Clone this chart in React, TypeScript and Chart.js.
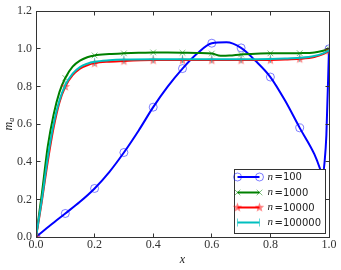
import React, { useEffect, useRef } from 'react';
import { Chart, registerables } from 'chart.js';

Chart.register(...registerables);

const xTicks = [0, 0.2, 0.4, 0.6, 0.8, 1.0];
const yTicks = [0, 0.2, 0.4, 0.6, 0.8, 1.0, 1.2];
const markerX = [0, 0.1, 0.2, 0.3, 0.4, 0.5, 0.6, 0.7, 0.8, 0.9, 1.0];
const seriesLabels = ['100', '1000', '10000', '100000'];

const n100X = [0, 0.05, 0.1, 0.15, 0.2, 0.25, 0.3, 0.35, 0.4, 0.45, 0.5, 0.55, 0.6, 0.65, 0.7, 0.75, 0.8, 0.85, 0.9, 0.95, 0.97, 0.978, 0.985, 0.991, 1.0];
const n100Y = [0, 0.064, 0.125, 0.187, 0.258, 0.345, 0.449, 0.565, 0.69, 0.8, 0.895, 0.975, 1.03, 1.035, 1.005, 0.935, 0.85, 0.725, 0.58, 0.44, 0.36, 0.32, 0.4, 0.54, 1.0];

const n1000X = [0, 0.02, 0.04, 0.06, 0.08, 0.1, 0.125, 0.15, 0.175, 0.2, 0.25, 0.3, 0.35, 0.4, 0.45, 0.5, 0.55, 0.6, 0.63, 0.66, 0.7, 0.75, 0.8, 0.85, 0.9, 0.95, 0.98, 1.0];
const n1000Y = [0, 0.23, 0.48, 0.65, 0.77, 0.845, 0.905, 0.937, 0.955, 0.965, 0.972, 0.976, 0.979, 0.981, 0.98, 0.979, 0.978, 0.975, 0.963, 0.964, 0.97, 0.974, 0.976, 0.976, 0.977, 0.981, 0.99, 1.0];

const n10000X = [0, 0.02, 0.04, 0.06, 0.08, 0.1, 0.125, 0.15, 0.175, 0.2, 0.25, 0.3, 0.4, 0.5, 0.6, 0.7, 0.8, 0.85, 0.9, 0.95, 0.98, 1.0];
const n10000Y = [0, 0.19, 0.4, 0.58, 0.715, 0.8, 0.86, 0.895, 0.913, 0.924, 0.932, 0.936, 0.94, 0.94, 0.94, 0.94, 0.941, 0.943, 0.947, 0.957, 0.972, 0.99];

const n100000X = [0, 0.02, 0.04, 0.06, 0.08, 0.1, 0.125, 0.15, 0.175, 0.2, 0.25, 0.3, 0.4, 0.5, 0.6, 0.7, 0.8, 0.85, 0.9, 0.95, 0.98, 1.0];
const n100000Y = [0, 0.2, 0.42, 0.6, 0.725, 0.807, 0.868, 0.903, 0.921, 0.931, 0.939, 0.943, 0.945, 0.945, 0.945, 0.945, 0.946, 0.948, 0.952, 0.962, 0.976, 0.992];

const LINE_COLORS = ['#0000ff', '#008000', '#ff0000', '#00bfbf'];
const MARK_COLORS = ['rgba(0,0,255,0.5)', 'rgba(0,128,0,0.5)', 'rgba(255,0,0,0.5)', 'rgba(0,191,191,0.6)'];

function makeStar(color: string): HTMLCanvasElement {
  const c = document.createElement('canvas');
  c.width = 11;
  c.height = 11;
  const g = c.getContext('2d')!;
  g.beginPath();
  for (let i = 0; i < 10; i++) {
    const r = i % 2 === 0 ? 5 : 2.1;
    const a = -Math.PI / 2 + (i * Math.PI) / 5;
    const px = 5.5 + r * Math.cos(a);
    const py = 5.8 + r * Math.sin(a);
    if (i === 0) g.moveTo(px, py);
    else g.lineTo(px, py);
  }
  g.closePath();
  g.fillStyle = color;
  g.fill();
  return c;
}

function isMarker(v: number) {
  return markerX.some((m) => Math.abs(m - v) < 1e-6);
}

export default function App() {
  const ref = useRef<HTMLCanvasElement>(null);

  useEffect(() => {
    const canvas = ref.current!;
    const star = makeStar(MARK_COLORS[2]);
    const styles: any[] = ['circle', 'crossRot', star, 'line'];
    const rotations = [0, 0, 0, 90];
    const xsAll = [n100X, n1000X, n10000X, n100000X];
    const ysAll = [n100Y, n1000Y, n10000Y, n100000Y];

    const datasets = xsAll.map((xs, i) => ({
      label: seriesLabels[i],
      data: xs.map((xv, j) => ({ x: xv, y: ysAll[i][j] })),
      borderColor: LINE_COLORS[i],
      borderWidth: 2,
      cubicInterpolationMode: 'monotone' as const,
      pointStyle: styles[i],
      pointRotation: rotations[i],
      pointRadius: (ctx: any) => (ctx.raw && isMarker(ctx.raw.x) ? 4 : 0),
      pointHoverRadius: 0,
      pointBorderColor: MARK_COLORS[i],
      pointBackgroundColor: 'rgba(0,0,0,0)',
      pointBorderWidth: 1,
      order: 3 - i,
    }));

    const framePlugin = {
      id: 'frame',
      afterDraw(chart: any) {
        const { ctx, chartArea, scales } = chart;
        const { left, right, top, bottom } = chartArea;
        const xs = scales.x;
        const ys = scales.y;
        ctx.save();
        ctx.strokeStyle = '#333';
        ctx.lineWidth = 1;
        const L = Math.floor(left) + 0.5;
        const R = Math.floor(right) + 0.5;
        const T = Math.floor(top) + 0.5;
        const B = Math.floor(bottom) + 0.5;
        ctx.beginPath();
        for (const v of xTicks) {
          const px = Math.floor(xs.getPixelForValue(v)) + 0.5;
          ctx.moveTo(px, B);
          ctx.lineTo(px, B - 4);
          ctx.moveTo(px, T);
          ctx.lineTo(px, T + 4);
        }
        for (const v of yTicks) {
          const py = Math.floor(ys.getPixelForValue(v)) + 0.5;
          ctx.moveTo(L, py);
          ctx.lineTo(L + 4, py);
          ctx.moveTo(R, py);
          ctx.lineTo(R - 4, py);
        }
        ctx.stroke();
        ctx.strokeRect(L, T, R - L, B - T);

        // legend
        const bw = 91;
        const bh = 64;
        const bx = Math.floor(right) - 4 - bw + 0.5;
        const by = Math.floor(bottom) - 4 - bh + 0.5;
        ctx.fillStyle = '#ffffff';
        ctx.fillRect(bx, by, bw, bh);
        ctx.strokeStyle = '#333';
        ctx.strokeRect(bx, by, bw, bh);
        const rows = [7.5, 23, 38, 53];
        for (let i = 0; i < 4; i++) {
          const ry = by + rows[i];
          const x1 = bx + 3;
          const x2 = bx + 25;
          ctx.strokeStyle = LINE_COLORS[i];
          ctx.lineWidth = 2;
          ctx.beginPath();
          ctx.moveTo(x1, ry);
          ctx.lineTo(x2, ry);
          ctx.stroke();
          ctx.lineWidth = 1;
          ctx.strokeStyle = MARK_COLORS[i];
          for (const mx of [x1, x2]) {
            ctx.beginPath();
            if (i === 0) {
              ctx.arc(mx, ry, 4, 0, Math.PI * 2);
            } else if (i === 1) {
              const d = 4 * Math.SQRT1_2;
              ctx.moveTo(mx - d, ry - d);
              ctx.lineTo(mx + d, ry + d);
              ctx.moveTo(mx - d, ry + d);
              ctx.lineTo(mx + d, ry - d);
            } else if (i === 3) {
              ctx.moveTo(mx, ry - 4);
              ctx.lineTo(mx, ry + 4);
            }
            ctx.stroke();
            if (i === 2) ctx.drawImage(star, mx - 5.5, ry - 5.8);
          }
          ctx.fillStyle = '#222';
          ctx.textBaseline = 'middle';
          ctx.textAlign = 'left';
          ctx.font = "italic 11px 'Liberation Serif'";
          ctx.fillText('n', bx + 33, ry);
          ctx.font = "10px 'DejaVu Sans'";
          ctx.fillText('=' + seriesLabels[i], bx + 40, ry + 0.5);
        }

        // axis titles
        ctx.fillStyle = '#222';
        ctx.textAlign = 'center';
        ctx.textBaseline = 'middle';
        ctx.font = "italic 12px 'Liberation Serif'";
        ctx.fillText('x', (left + right) / 2, 260);

        ctx.save();
        ctx.translate(9, (top + bottom) / 2);
        ctx.rotate(-Math.PI / 2);
        ctx.font = "italic 12px 'Liberation Serif'";
        const mw = ctx.measureText('m').width;
        ctx.font = "italic 8px 'Liberation Serif'";
        const aw = ctx.measureText('a').width;
        const start = -(mw + aw) / 2;
        ctx.textAlign = 'left';
        ctx.textBaseline = 'alphabetic';
        ctx.font = "italic 12px 'Liberation Serif'";
        ctx.fillText('m', start, 3);
        ctx.font = "italic 8px 'Liberation Serif'";
        ctx.fillText('a', start + mw, 5);
        ctx.restore();

        ctx.restore();
      },
    };

    const tickFont = { family: "'Liberation Serif'", size: 12 };

    const chart = new Chart(canvas, {
      type: 'line',
      data: { datasets: datasets as any },
      options: {
        animation: false,
        responsive: false,
        devicePixelRatio: 1,
        events: [],
        layout: { padding: { top: 11, right: 12, left: 0, bottom: 0 } },
        plugins: { legend: { display: false }, tooltip: { enabled: false } },
        scales: {
          x: {
            type: 'linear',
            min: 0,
            max: 1,
            grid: { display: false, drawTicks: false },
            border: { display: false },
            ticks: {
              stepSize: 0.2,
              padding: 1,
              maxRotation: 0,
              font: tickFont,
              color: '#333',
              callback: (v: any) => Number(v).toFixed(1),
            },
            afterFit: (s: any) => {
              s.height = 33;
            },
          },
          y: {
            type: 'linear',
            min: 0,
            max: 1.2,
            grid: { display: false, drawTicks: false },
            border: { display: false },
            ticks: {
              stepSize: 0.2,
              padding: 4,
              font: tickFont,
              color: '#333',
              callback: (v: any) => Number(v).toFixed(1),
            },
            afterFit: (s: any) => {
              s.width = 36;
            },
          },
        },
      },
      plugins: [framePlugin],
    });

    return () => chart.destroy();
  }, []);

  return (
    <div style={{ position: 'absolute', left: 0, top: 0, width: 341, height: 270, background: '#fff' }}>
      <canvas ref={ref} width={341} height={270} style={{ width: 341, height: 270, display: 'block' }} />
    </div>
  );
}
